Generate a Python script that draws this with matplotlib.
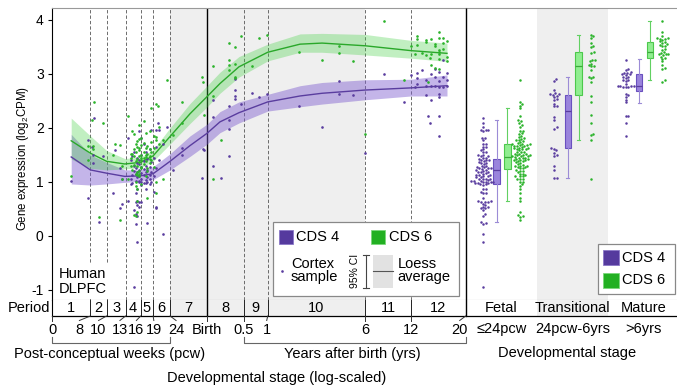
import numpy as np
import matplotlib
matplotlib.use("Agg")
import matplotlib.pyplot as plt
from matplotlib.patches import Rectangle

plt.rcParams['font.family'] = ['Liberation Sans', 'DejaVu Sans']
plt.rcParams['mathtext.fontset'] = 'custom'
plt.rcParams['mathtext.rm'] = 'Liberation Sans'

# ---------------- data ----------------
# sample ages in days post-conception; expression in log2 CPM
fetal_age = [43, 54, 54, 57, 58, 59, 58, 63, 67, 77, 79, 84, 84, 87, 87,
             94, 110, 130, 139, 142, 145, 160, 113, 98, 100, 105, 107, 113, 127, 120, 134,
             94, 105, 107, 110, 113, 107, 102, 110, 105, 107, 105, 123, 107, 153, 139, 139, 102,
             98, 100, 102, 102, 105, 105, 105, 107, 107, 107, 107, 110, 110, 110, 110, 110,
             113, 113, 113, 113, 117, 117, 117, 117, 120, 120, 120, 120, 123, 123, 123,
             127, 127, 127, 130, 130, 130, 134, 134, 139, 139, 145, 153, 98, 102, 117, 100,
             123, 113, 110, 127, 120]
fetal_cds4 = [1.02, 1.77, 0.70, 1.65, 1.35, 2.19, 1.50, 0.26, 1.48, 0.79, 1.58, 1.25, 0.51, 1.06, 0.59,
              1.82, 1.94, 1.96, 1.96, 2.09, 1.96, 2.01, 1.81, 0.95, 0.97, 0.79, 0.87, 0.94, 0.95, 0.86, 0.81,
              0.64, 0.62, 0.64, 0.63, 0.62, 0.57, 0.48, 0.53, 0.41, 0.37, 0.22, 0.24, -0.11, 0.03, 0.54, 0.51, -0.95,
              1.05, 1.12, 1.20, 1.30, 1.02, 1.15, 1.25, 1.08, 1.18, 1.35, 1.45, 1.00, 1.10, 1.22, 1.33, 1.40,
              1.05, 1.16, 1.27, 1.50, 0.98, 1.13, 1.24, 1.38, 1.03, 1.19, 1.30, 1.55, 1.08, 1.21, 1.42,
              1.12, 1.28, 1.60, 1.00, 1.18, 1.36, 1.10, 1.45, 1.25, 1.65, 1.40, 1.70, 1.40, 1.55, 1.70, 1.48,
              0.99, 1.00, 1.02, 1.06, 0.98]
fetal_cds6 = [1.10, 1.41, 1.67, 2.14, 1.60, 2.48, 1.67, 0.35, 2.09, 1.49, 1.70, 1.69, 0.30, 1.06, 1.30,
              2.22, 2.06, 2.36, 2.44, 2.41, 2.02, 2.89, 1.81, 1.30, 1.22, 0.99, 0.86, 1.25, 1.35, 1.10, 1.28,
              1.05, 1.15, 0.64, 1.20, 0.95, 0.44, 0.39, 1.10, 0.92, 1.12, 0.36, 0.70, 1.18, 1.05, 0.79, 1.00, 1.32,
              1.45, 1.52, 1.60, 1.48, 1.38, 1.55, 1.70, 1.42, 1.30, 1.65, 1.75, 1.36, 1.58, 1.48, 1.62, 1.80,
              1.40, 1.50, 1.68, 1.45, 1.33, 1.56, 1.44, 1.72, 1.46, 1.62, 1.38, 1.90, 1.52, 1.25, 1.66,
              1.60, 1.47, 1.95, 1.40, 1.74, 1.55, 1.63, 1.85, 1.78, 1.83, 1.70, 1.78, 1.52, 1.88, 2.13, 1.95,
              1.20, 1.28, 1.15, 1.42, 1.50]

trans_age = [175, 197, 197, 261, 265, 268, 304, 304, 304, 339, 379, 379, 379, 379,
             411, 411, 411, 411, 447, 520, 572, 639, 994, 1364, 1724, 1724, 2091, 2460]
trans_cds4 = [1.22, 1.62, 1.50, 1.07, 1.61, 1.58, 2.20, 2.51, 1.30, 1.07, 2.41, 2.15, 1.98, 1.47,
              2.90, 2.70, 2.59, 2.53, 2.45, 2.64, 2.57, 2.62, 2.40, 2.01, 2.86, 2.62, 2.61, 1.54]
trans_cds6 = [1.86, 2.48, 2.09, 2.95, 2.84, 2.24, 3.14, 2.59, 1.05, 1.78, 3.57, 3.25, 3.17, 3.07,
              3.49, 3.19, 2.95, 2.92, 3.70, 3.14, 3.67, 3.72, 3.40, 3.25, 3.52, 3.38, 3.23, 1.89]

mature_age = [3191, 4222, 4650, 5051, 5051, 5051, 4913, 5410, 5717, 5717, 5717,
              6124, 6124, 6124, 5876, 6040, 6472, 6472, 6472,
              6839, 6839, 6839, 6839, 6839, 6839, 6839, 7226, 7226, 7226, 7635, 7635, 7635]
mature_cds4 = [2.99, 2.47, 2.98, 3.02, 2.92, 2.81, 2.75, 3.07, 2.89, 2.77, 2.60,
               2.99, 2.77, 2.52, 2.21, 2.09, 3.09, 2.95, 2.77,
               3.03, 2.86, 2.75, 2.63, 2.57, 2.21, 1.84, 3.25, 2.75, 2.95, 3.02, 2.78, 2.88]
mature_cds6 = [3.98, 2.88, 3.52, 3.71, 3.65, 3.54, 3.36, 3.39, 3.63, 3.59, 3.35,
               3.65, 3.36, 3.17, 2.85, 3.30, 3.55, 3.51, 3.10,
               3.77, 3.67, 3.40, 3.36, 3.28, 3.09, 3.45, 3.66, 3.57, 3.46, 3.60, 3.32, 3.23]

# loess average and 95% CI
loess_age = [43, 56, 70, 90, 112, 133, 168, 221, 280, 334, 434, 645, 1007, 1364, 2471, 4650, 7635]
loess4_mean = [1.46, 1.22, 1.16, 1.10, 1.11, 1.15, 1.38, 1.67, 1.90, 2.11, 2.28, 2.48, 2.59, 2.64, 2.70, 2.74, 2.78]
loess4_lo = [0.96, 0.94, 0.96, 0.99, 1.01, 1.04, 1.22, 1.47, 1.70, 1.91, 2.09, 2.31, 2.39, 2.44, 2.52, 2.59, 2.59]
loess4_hi = [1.88, 1.50, 1.36, 1.22, 1.22, 1.28, 1.52, 1.85, 2.07, 2.30, 2.48, 2.62, 2.78, 2.84, 2.89, 2.90, 2.98]
loess6_mean = [1.76, 1.53, 1.38, 1.33, 1.36, 1.48, 1.84, 2.26, 2.58, 2.82, 3.13, 3.40, 3.55, 3.57, 3.52, 3.43, 3.38]
loess6_lo = [1.42, 1.25, 1.22, 1.24, 1.26, 1.38, 1.70, 2.08, 2.39, 2.64, 2.94, 3.24, 3.40, 3.40, 3.35, 3.29, 3.23]
loess6_hi = [2.18, 1.85, 1.58, 1.43, 1.46, 1.59, 2.00, 2.45, 2.78, 3.03, 3.32, 3.55, 3.74, 3.75, 3.73, 3.62, 3.57]

# periods (boundaries in days post-conception)
period_bounds = [56, 70, 91, 112, 133, 168, 280, 462.6, 645.25, 2471.5, 4663]
period_names = ['1', '2', '3', '4', '5', '6', '7', '8', '9', '10', '11', '12']
age_tick_labels = ['0', '8', '10', '13', '16', '19', '24', 'Birth', '0.5', '1', '6', '12', '20']
shaded_range = [168, 2471.5]

# developmental stage boxplots
stage_names = ['Fetal', 'Transitional', 'Mature']
stage_ticks = ['\u226424pcw', '24pcw-6yrs', '>6yrs']
box4_q1 = [0.96, 1.62, 2.69]
box4_med = [1.21, 2.31, 2.78]
box4_q3 = [1.43, 2.60, 2.99]
box4_lo = [0.26, 1.07, 2.46]
box4_hi = [2.15, 2.94, 3.28]
box6_q1 = [1.24, 2.60, 3.30]
box6_med = [1.46, 3.14, 3.40]
box6_q3 = [1.70, 3.40, 3.59]
box6_lo = [0.64, 1.77, 2.88]
box6_hi = [2.36, 3.72, 3.98]

# ---------------- style ----------------
PURPLE = '#5a3d9f'
GREEN = '#2bb32b'
GRAYBG = '#efefef'
XMIN, XMAX = 33.0, 9880.0
YMIN, YMAX = -1.19, 4.22
W, H = 677, 388
FS = 10.5

fig = plt.figure(figsize=(W / 100, H / 100), dpi=100)


def fr(x0, y0, x1, y1):
    return [x0 / W, 1 - y1 / H, (x1 - x0) / W, (y1 - y0) / H]


ax = fig.add_axes(fr(52, 8, 465.7, 300))
axr = fig.add_axes(fr(465.7, 8, 679.5, 300))
axp = fig.add_axes(fr(52, 300, 465.7, 316), sharex=ax)
axpr = fig.add_axes(fr(465.7, 300, 679.5, 316), sharex=axr)

# ---- main panel ----
ax.set_xscale('log')
ax.set_xlim(XMIN, XMAX)
ax.set_ylim(YMIN, YMAX)
ax.axvspan(*shaded_range, color=GRAYBG, lw=0, zorder=0)
for b in period_bounds:
    if b == 280:
        ax.axvline(b, color='black', lw=1.0, zorder=1)
    else:
        ax.axvline(b, color='#555555', lw=0.6, ls=(0, (4, 2.5)), zorder=1)

ax.fill_between(loess_age, loess4_lo, loess4_hi, color='#7c5ccf', alpha=0.45, lw=0, zorder=2)
ax.fill_between(loess_age, loess6_lo, loess6_hi, color='#3fd03f', alpha=0.32, lw=0, zorder=2.5)
ax.plot(loess_age, loess4_mean, color=PURPLE, lw=1.0, zorder=3)
ax.plot(loess_age, loess6_mean, color='#2aa82a', lw=1.0, zorder=3)

all_age = fetal_age + trans_age + mature_age
all4 = fetal_cds4 + trans_cds4 + mature_cds4
all6 = fetal_cds6 + trans_cds6 + mature_cds6
ax.plot(all_age, all4, 'o', ms=1.9, color=PURPLE, mec='none', zorder=4)
ax.plot(all_age, all6, 'o', ms=1.9, color=GREEN, mec='none', zorder=4.5)

ax.set_yticks([-1, 0, 1, 2, 3, 4])
ax.set_yticklabels(['-1', '0', '1', '2', '3', '4'], fontsize=10)
ax.tick_params(axis='y', length=3, width=0.8, pad=3, color='black')
ax.tick_params(axis='x', which='both', bottom=False, labelbottom=False, top=False)
ax.spines['top'].set_color('#999999')
ax.spines['bottom'].set_color('#999999')
ax.spines['left'].set_linewidth(0.8)
ax.spines['right'].set_visible(False)

# ---- period row ----
axp.set_ylim(0, 1)
axp.set_yticks([])
axp.tick_params(axis='x', which='both', bottom=False, labelbottom=False, top=False)
axp.axvspan(*shaded_range, color=GRAYBG, lw=0, zorder=0)
edges = [XMIN] + period_bounds + [XMAX]
for b in period_bounds:
    axp.axvline(b, color='#222222' if b != 280 else 'black', lw=0.7 if b != 280 else 1.0)
for i, name in enumerate(period_names):
    c = np.sqrt(edges[i] * edges[i + 1])
    axp.text(c, 0.47, name, ha='center', va='center', fontsize=FS)
axp.spines['top'].set_visible(False)
axp.spines['bottom'].set_linewidth(0.9)
axp.spines['left'].set_linewidth(0.8)
axp.spines['right'].set_visible(False)

# ---- right panel ----
axr.set_xlim(-0.5, 2.5)
axr.set_ylim(YMIN, YMAX)
axr.axvspan(0.5, 1.5, color=GRAYBG, lw=0, zorder=0)
axr.set_xticks([])
axr.set_yticks([])
for s in ['left', 'right']:
    axr.spines[s].set_visible(False)
axr.spines['top'].set_color('#999999')
axr.spines['bottom'].set_color('#999999')

PX_PER_X = 213.8 / 3.0
PX_PER_Y = 292.0 / (YMAX - YMIN)


def beeswarm(vals, d=2.65, step=0.25):
    ys = np.sort(np.asarray(vals, float))
    ypx = ys * PX_PER_Y
    px_l, py_l, offs = [], [], []
    for y in ypx:
        k = 0
        hit = None
        while hit is None:
            cands = [0.0] if k == 0 else [k * step, -k * step]
            for c in cands:
                ok = True
                for px, py in zip(px_l, py_l):
                    if abs(py - y) < d and (px - c) ** 2 + (py - y) ** 2 < d * d:
                        ok = False
                        break
                if ok:
                    hit = c
                    break
            k += 1
        px_l.append(hit)
        py_l.append(y)
        offs.append(hit)
    return np.array(offs) / PX_PER_X, ys


OFF_SW4, OFF_BOX4, OFF_BOX6, OFF_SW6 = -0.255, -0.066, 0.084, 0.26
groups4 = [fetal_cds4, trans_cds4, mature_cds4]
groups6 = [fetal_cds6, trans_cds6, mature_cds6]
for i in range(3):
    o, v = beeswarm(groups4[i])
    axr.plot(i + OFF_SW4 + o, v, 'o', ms=1.8, color=PURPLE, mec='none', zorder=4)
    o, v = beeswarm(groups6[i])
    axr.plot(i + OFF_SW6 + o, v, 'o', ms=1.8, color=GREEN, mec='none', zorder=4)

stats4 = [dict(med=box4_med[i], q1=box4_q1[i], q3=box4_q3[i], whislo=box4_lo[i],
               whishi=box4_hi[i], fliers=[]) for i in range(3)]
stats6 = [dict(med=box6_med[i], q1=box6_q1[i], q3=box6_q3[i], whislo=box6_lo[i],
               whishi=box6_hi[i], fliers=[]) for i in range(3)]
axr.bxp(stats4, positions=np.arange(3) + OFF_BOX4, widths=0.09, patch_artist=True,
        showfliers=False, capwidths=0.04,
        boxprops=dict(facecolor='#9a84dc', edgecolor='#6a50bf', lw=0.8),
        whiskerprops=dict(color='#9c8cd6', lw=0.8), capprops=dict(color='#9c8cd6', lw=0.8),
        medianprops=dict(color='#5a3d9f', lw=0.9), manage_ticks=False, zorder=3)
axr.bxp(stats6, positions=np.arange(3) + OFF_BOX6, widths=0.09, patch_artist=True,
        showfliers=False, capwidths=0.04,
        boxprops=dict(facecolor='#90ee90', edgecolor='#4cc84c', lw=0.8),
        whiskerprops=dict(color='#62d062', lw=0.8), capprops=dict(color='#62d062', lw=0.8),
        medianprops=dict(color='#3aaa3a', lw=0.9), manage_ticks=False, zorder=3)

# right period row
axpr.set_ylim(0, 1)
axpr.set_xticks([])
axpr.set_yticks([])
axpr.axvspan(0.5, 1.5, color=GRAYBG, lw=0, zorder=0)
for s in ['left', 'right', 'top']:
    axpr.spines[s].set_visible(False)
axpr.spines['bottom'].set_linewidth(0.9)
for i, name in enumerate(stage_names):
    axpr.text(i, 0.47, name, ha='center', va='center', fontsize=FS)

# ---- overlay (pixel coordinates, top-left origin) ----
ov = fig.add_axes([0, 0, 1, 1])
ov.set_xlim(0, W)
ov.set_ylim(H, 0)
ov.axis('off')
ov.set_zorder(10)
ov.patch.set_alpha(0)


def xpix(a, x):
    return a.transData.transform((x, 1.0))[0]


# panel divider
xr = xpix(ax, XMAX)
ov.plot([xr, xr], [7.5, 316], color='black', lw=1.0, solid_capstyle='butt')

# age tick labels with leader lines
tick_ages = [XMIN] + period_bounds + [XMAX]
label_shift = [0, -11, -8, -5.7, -4.3, 0.7, 6, 0, 0, -1, 0, 0, -6]
for age, lab, sh in zip(tick_ages, age_tick_labels, label_shift):
    bx = xpix(ax, age)
    lx = bx + sh
    ov.plot([bx, lx], [316, 320.5], color='#333333', lw=0.7)
    ov.text(lx, 329.5, lab, ha='center', va='center', fontsize=FS)

for i, lab in enumerate(stage_ticks):
    ov.text(xpix(axr, i), 329.5, lab, ha='center', va='center', fontsize=FS)

# brackets
x0, x1 = xpix(ax, XMIN), xpix(ax, 168)
ov.plot([x0, x0, x1, x1], [337, 343.3, 343.3, 337], color='#666666', lw=0.8)
ov.text((x0 + x1) / 2 - 1, 354, 'Post-conceptual weeks (pcw)', ha='center', va='center', fontsize=FS)
x0, x1 = xpix(ax, 462.6), xpix(ax, XMAX)
ov.plot([x0, x0, x1, x1], [337, 343.3, 343.3, 337], color='#666666', lw=0.8)
ov.text(352, 354, 'Years after birth (yrs)', ha='center', va='center', fontsize=FS)
ov.text(277, 378, 'Developmental stage (log-scaled)', ha='center', va='center', fontsize=FS)
ov.text(xpix(axr, 0.92), 353.5, 'Developmental stage', ha='center', va='center', fontsize=FS)
ov.text(50, 308.5, 'Period', ha='right', va='center', fontsize=FS)
ov.text(23, 158, r'Gene expression (log$_\mathregular{2}$CPM)', rotation=90,
        ha='center', va='center', fontsize=8.3)

# Human DLPFC label
ov.add_patch(Rectangle((56, 263), 54, 36.3, facecolor='white', edgecolor='none'))
ov.text(59, 274, 'Human', ha='left', va='center', fontsize=FS)
ov.text(59, 289, 'DLPFC', ha='left', va='center', fontsize=FS)

# left legend
ov.add_patch(Rectangle((272.7, 221.7), 186, 74, facecolor='white', edgecolor='#888888', lw=0.9))
ov.add_patch(Rectangle((278.5, 229.5), 14.5, 14, facecolor='#553a9e', edgecolor='#8a78c8', lw=0.6))
ov.text(296.5, 236.8, 'CDS 4', ha='left', va='center', fontsize=FS)
ov.add_patch(Rectangle((370.7, 229.5), 14.5, 14, facecolor='#22b022', edgecolor='#7ad87a', lw=0.6))
ov.text(389, 236.8, 'CDS 6', ha='left', va='center', fontsize=FS)
ov.plot([281.7], [271], 'o', ms=1.9, color=PURPLE, mec='none')
ov.text(291, 263.5, 'Cortex', ha='left', va='center', fontsize=FS)
ov.text(291, 277.5, 'sample', ha='left', va='center', fontsize=FS)
ov.text(355, 271, '95% CI', rotation=90, ha='center', va='center', fontsize=7.5)
ov.plot([365.7, 365.7], [255, 287.7], color='#444444', lw=0.8)
ov.plot([363, 368.5], [255, 255], color='#444444', lw=0.8)
ov.plot([363, 368.5], [287.7, 287.7], color='#444444', lw=0.8)
ov.add_patch(Rectangle((373.3, 255), 19.4, 32.7, facecolor='#e2e2e2', edgecolor='none'))
ov.plot([373.3, 392.7], [271, 271], color='#555555', lw=0.8)
ov.text(397.3, 263.5, 'Loess', ha='left', va='center', fontsize=FS)
ov.text(397.3, 277.5, 'average', ha='left', va='center', fontsize=FS)

# right legend
ov.add_patch(Rectangle((598.3, 244), 76.7, 49.7, facecolor='white', edgecolor='#888888', lw=0.9))
ov.add_patch(Rectangle((603.3, 250), 16, 15, facecolor='#553a9e', edgecolor='#8a78c8', lw=0.6))
ov.text(622.3, 257.8, 'CDS 4', ha='left', va='center', fontsize=FS)
ov.add_patch(Rectangle((603.3, 272.7), 16, 15, facecolor='#22b022', edgecolor='#7ad87a', lw=0.6))
ov.text(622.3, 280.5, 'CDS 6', ha='left', va='center', fontsize=FS)

fig.savefig('out.png', dpi=100)
